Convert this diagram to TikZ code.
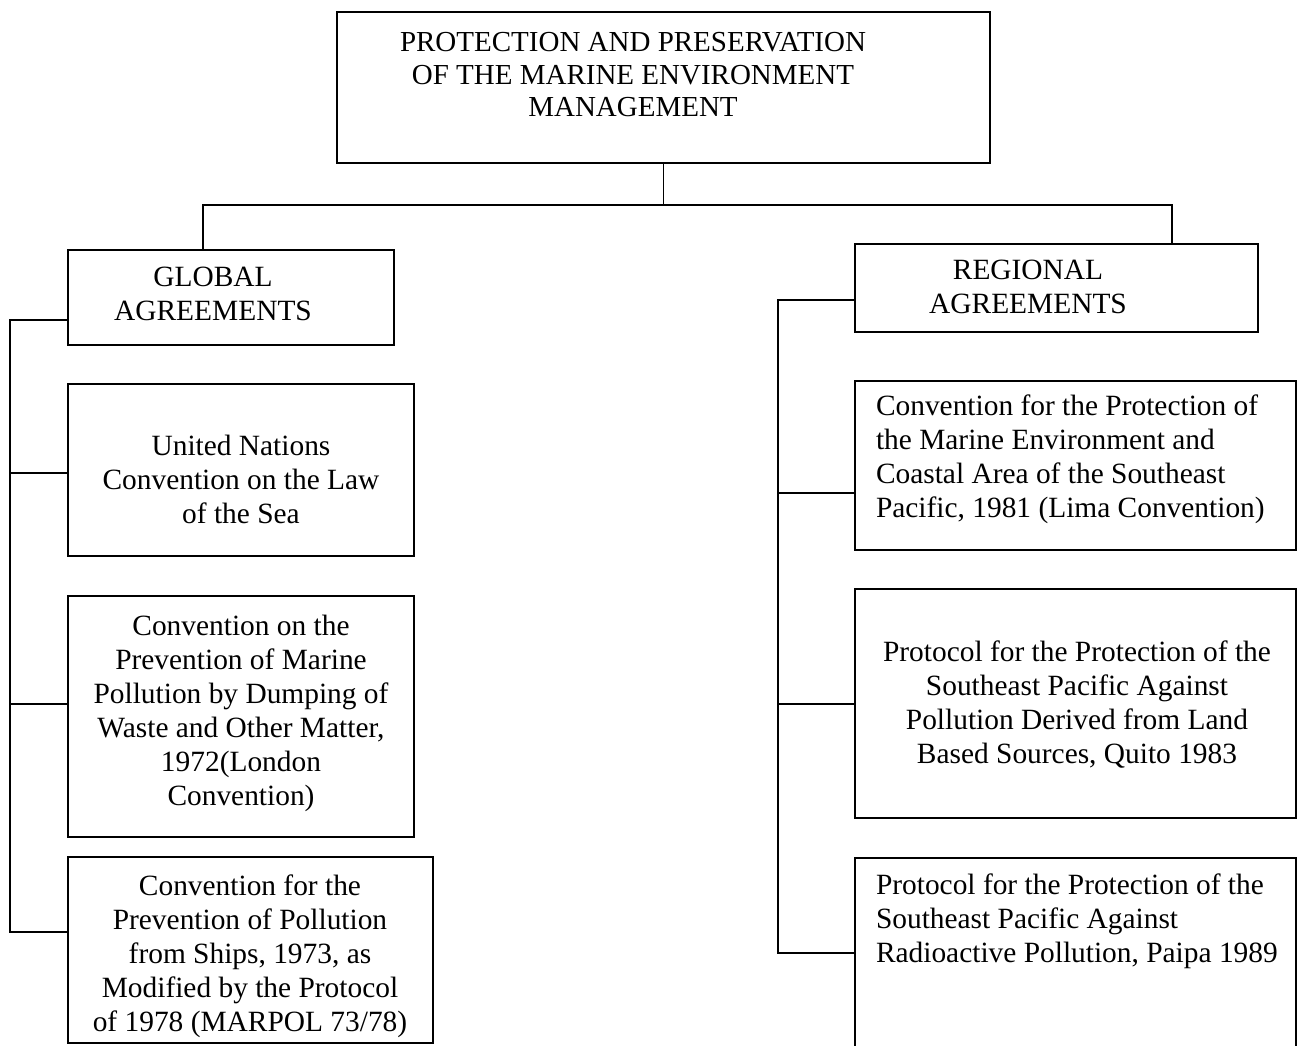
\documentclass[tikz,border=0pt]{standalone}
\usepackage{fontspec}
\setmainfont{Liberation Serif}
\newcommand\bodyfont{\fontsize{29.4}{34}\selectfont}
\newcommand\titlefont{\fontsize{29}{32.5}\selectfont}
\begin{document}
\begin{tikzpicture}[x=1pt,y=-1pt,
  box/.style={draw,line width=1.5pt,rectangle,inner sep=0pt,outer sep=0pt},
  txt/.style={inner sep=0pt,outer sep=0pt,font=\bodyfont,align=center,anchor=north,execute at begin node=\strut},
  ltxt/.style={inner sep=0pt,outer sep=0pt,font=\bodyfont,align=left,anchor=north west,execute at begin node=\strut},
  conn/.style={line width=1.5pt}]
\clip (0,0) rectangle (1303,1045);
\fill[white] (0,0) rectangle (1303,1045);
% boxes
\node[box,minimum width=653pt,minimum height=151pt] (top) at (663.5,87.5) {};
\node[box,minimum width=326pt,minimum height=95pt] (global) at (231,297.5) {};
\node[box,minimum width=403pt,minimum height=88pt] (regional) at (1056.5,288) {};
\node[box,minimum width=346pt,minimum height=172pt] (un) at (241,470) {};
\node[box,minimum width=346pt,minimum height=241pt] (london) at (241,716.5) {};
\node[box,minimum width=365pt,minimum height=186pt] (marpol) at (250.5,950) {};
\node[box,minimum width=441pt,minimum height=169pt] (lima) at (1075.5,465.5) {};
\node[box,minimum width=441pt,minimum height=229pt] (quito) at (1075.5,703.5) {};
\node[box,minimum width=441pt,minimum height=207pt] (paipa) at (1075.5,961.5) {};
% texts
\node[txt,font=\titlefont] (ttitle) at (633,32.3) {PROTECTION AND PRESERVATION\\OF THE MARINE ENVIRONMENT\\MANAGEMENT};
\node[txt] (tglobal) at (213,267.2) {GLOBAL\\AGREEMENTS};
\node[txt] (tregional) at (1028,260.5) {REGIONAL\\AGREEMENTS};
\node[txt] (tun) at (241,435.2) {United Nations\\Convention on the Law\\of the Sea};
\node[txt] (tlondon) at (241,615.2) {Convention on the\\Prevention of Marine\\Pollution by Dumping of\\Waste and Other Matter,\\1972(London\\Convention)};
\node[txt] (tmarpol) at (250,875.2) {Convention for the\\Prevention of Pollution\\from Ships, 1973, as\\Modified by the Protocol\\of 1978 (MARPOL 73/78)};
\node[ltxt] (tlima) at (876,395.2) {Convention for the Protection of\\the Marine Environment and\\Coastal Area of the Southeast\\Pacific, 1981 (Lima Convention)};
\node[txt] (tquito) at (1077,640.7) {Protocol for the Protection of the\\Southeast Pacific Against\\Pollution Derived from Land\\Based Sources, Quito 1983};
\node[ltxt] (tpaipa) at (876,874.2) {Protocol for the Protection of the\\Southeast Pacific Against\\Radioactive Pollution, Paipa 1989};
% connectors
\coordinate (jn) at (663.5,205);
\coordinate (lbus) at (10,0);
\coordinate (rbus) at (778,0);
\draw[conn] (top.south) -- (jn);
\draw[conn] ([xshift=-28pt]global.north) |- (jn) -| ([xshift=115.5pt]regional.north);
\draw[conn] ([yshift=-70pt]global.north west) -- ([yshift=-70pt]global.north west -| lbus)
  |- ([yshift=-75pt]marpol.north west);
\draw[conn] ([yshift=-89pt]un.north west) -- ([yshift=-89pt]un.north west -| lbus);
\draw[conn] ([yshift=-108pt]london.north west) -- ([yshift=-108pt]london.north west -| lbus);
\draw[conn] ([yshift=-56pt]regional.north west) -- ([yshift=-56pt]regional.north west -| rbus)
  |- ([yshift=-95pt]paipa.north west);
\draw[conn] ([yshift=-112pt]lima.north west) -- ([yshift=-112pt]lima.north west -| rbus);
\draw[conn] ([yshift=-115pt]quito.north west) -- ([yshift=-115pt]quito.north west -| rbus);
\end{tikzpicture}
\end{document}
